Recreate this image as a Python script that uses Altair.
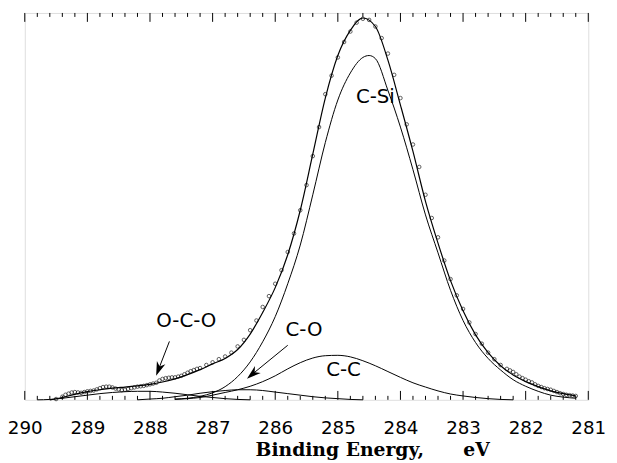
import altair as alt
import pandas as pd

# ---------------- data ----------------
# Envelope (sum of fitted components)
env_E = [289.6, 289.4, 289.2, 289.0, 288.8, 288.6, 288.4, 288.2, 288.0, 287.8,
         287.6, 287.4, 287.2, 287.0, 286.8, 286.6, 286.4, 286.2, 286.0, 285.8,
         285.6, 285.4, 285.2, 285.0, 284.8, 284.6, 284.4, 284.2, 284.0, 283.8,
         283.6, 283.4, 283.2, 283.0, 282.8, 282.6, 282.4, 282.2, 282.0, 281.8,
         281.6, 281.4, 281.2]
env_h = [0.000, 0.006, 0.014, 0.021, 0.026, 0.030, 0.033, 0.036, 0.040, 0.046,
         0.054, 0.065, 0.078, 0.093, 0.107, 0.130, 0.170, 0.226, 0.290, 0.375,
         0.490, 0.635, 0.780, 0.890, 0.955, 0.987, 0.965, 0.878, 0.762, 0.642,
         0.513, 0.405, 0.308, 0.230, 0.168, 0.122, 0.088, 0.064, 0.047, 0.034,
         0.023, 0.016, 0.010]

# C-Si component
csi_E = [287.6, 287.4, 287.2, 287.0, 286.8, 286.6, 286.4, 286.2, 286.0, 285.8,
         285.6, 285.4, 285.2, 285.0, 284.8, 284.6, 284.5, 284.4, 284.2, 284.0,
         283.8, 283.6, 283.4, 283.2, 283.0, 282.8, 282.6, 282.4, 282.2, 282.0,
         281.8, 281.6, 281.4, 281.2]
csi_h = [0.002, 0.004, 0.009, 0.018, 0.034, 0.060, 0.098, 0.150, 0.215, 0.300,
         0.400, 0.530, 0.665, 0.775, 0.845, 0.885, 0.890, 0.882, 0.800, 0.705,
         0.595, 0.478, 0.380, 0.283, 0.205, 0.148, 0.107, 0.077, 0.052, 0.035,
         0.022, 0.012, 0.007, 0.004]

# C-C component
cc_E = [287.6, 287.4, 287.2, 287.0, 286.8, 286.6, 286.4, 286.2, 286.0, 285.8,
        285.6, 285.4, 285.2, 285.0, 284.8, 284.6, 284.4, 284.2, 284.0, 283.8,
        283.6, 283.4, 283.2, 283.0, 282.8, 282.6, 282.4, 282.2]
cc_h = [0.001, 0.003, 0.006, 0.012, 0.019, 0.026, 0.035, 0.047, 0.062, 0.080,
        0.096, 0.108, 0.114, 0.115, 0.111, 0.101, 0.088, 0.073, 0.058, 0.044,
        0.033, 0.023, 0.015, 0.010, 0.006, 0.003, 0.001, 0.000]

# C-O component
co_E = [288.2, 288.0, 287.8, 287.6, 287.4, 287.2, 287.0, 286.8, 286.6, 286.4,
        286.2, 286.0, 285.8, 285.6, 285.4, 285.2, 285.0, 284.8, 284.6]
co_h = [0.000, 0.002, 0.004, 0.008, 0.012, 0.017, 0.021, 0.024, 0.026, 0.026,
        0.024, 0.020, 0.016, 0.012, 0.008, 0.005, 0.003, 0.001, 0.000]

# O-C-O component
oco_E = [289.8, 289.6, 289.4, 289.2, 289.0, 288.8, 288.6, 288.4, 288.2, 288.0,
         287.8, 287.6, 287.4, 287.2, 287.0, 286.8, 286.6, 286.4]
oco_h = [0.000, 0.001, 0.004, 0.008, 0.012, 0.016, 0.019, 0.021, 0.022, 0.022,
         0.020, 0.017, 0.013, 0.009, 0.006, 0.003, 0.001, 0.000]

# Measured data points (open circles)
pts_E = [289.5, 289.4, 289.3, 289.2, 289.1, 289.0, 288.9, 288.8, 288.7, 288.6,
         288.5, 288.4, 288.3, 288.2, 288.1, 288.0, 287.9, 287.8, 287.7, 287.6,
         287.5, 287.4, 287.3, 287.2, 287.1, 287.0, 286.9, 286.8, 286.7, 286.6,
         286.5, 286.4, 286.3, 286.2, 286.1, 286.0, 285.9, 285.8, 285.7, 285.6,
         285.5, 285.4, 285.3, 285.2, 285.1, 285.0, 284.9, 284.8, 284.7, 284.6,
         284.5, 284.4, 284.3, 284.2, 284.1, 284.0, 283.9, 283.8, 283.7, 283.6,
         283.5, 283.4, 283.3, 283.2, 283.1, 283.0, 282.9, 282.8, 282.7, 282.6,
         282.5, 282.4, 282.3, 282.2, 282.1, 282.0, 281.9, 281.8, 281.7, 281.6,
         281.5, 281.4, 281.3, 281.2,
         289.35, 289.25, 289.15, 289.05, 288.95, 288.85, 288.75, 288.65, 288.55,
         288.45, 288.35, 288.25, 288.15, 288.05, 287.95, 287.85, 287.75, 287.65,
         287.55, 287.45, 287.35, 287.25, 282.25, 282.15, 282.05, 281.95, 281.85,
         281.75, 281.65, 281.55, 281.45, 281.35, 281.25]
pts_h = [0.002, 0.008, 0.016, 0.020, 0.018, 0.022, 0.024, 0.030, 0.034, 0.032,
         0.027, 0.026, 0.030, 0.034, 0.036, 0.040, 0.044, 0.054, 0.057, 0.058,
         0.062, 0.070, 0.077, 0.082, 0.090, 0.097, 0.105, 0.112, 0.122, 0.138,
         0.155, 0.180, 0.205, 0.240, 0.268, 0.300, 0.335, 0.382, 0.430, 0.490,
         0.555, 0.630, 0.705, 0.790, 0.838, 0.885, 0.925, 0.952, 0.975, 0.985,
         0.982, 0.965, 0.935, 0.895, 0.840, 0.780, 0.712, 0.660, 0.602, 0.530,
         0.470, 0.420, 0.360, 0.312, 0.270, 0.235, 0.200, 0.170, 0.145, 0.122,
         0.105, 0.090, 0.080, 0.072, 0.060, 0.052, 0.045, 0.036, 0.030, 0.026,
         0.020, 0.015, 0.012, 0.010,
         0.013, 0.019, 0.019, 0.020, 0.023, 0.027, 0.033, 0.034, 0.029,
         0.025, 0.028, 0.032, 0.035, 0.038, 0.042, 0.050, 0.056, 0.058,
         0.060, 0.066, 0.074, 0.080, 0.076, 0.066, 0.056, 0.048, 0.040,
         0.033, 0.028, 0.023, 0.017, 0.013, 0.011]

# Tick positions
major_ticks = [290, 289, 288, 287, 286, 285, 284, 283, 282, 281]
minor_ticks = [289.8, 289.6, 289.4, 289.2, 288.8, 288.6, 288.4, 288.2,
               287.8, 287.6, 287.4, 287.2, 286.8, 286.6, 286.4, 286.2,
               285.8, 285.6, 285.4, 285.2, 284.8, 284.6, 284.4, 284.2,
               283.8, 283.6, 283.4, 283.2, 282.8, 282.6, 282.4, 282.2,
               281.8, 281.6, 281.4, 281.2]

# Peak labels
label_text = ["C-Si", "O-C-O", "C-O", "C-C"]
label_E = [284.40, 287.42, 285.54, 284.91]
label_h = [0.783, 0.204, 0.179, 0.077]

# Arrows (tail -> head)
arrow_E = [287.69, 285.80]
arrow_h = [0.151, 0.141]
arrow_E2 = [287.86, 286.36]
arrow_h2 = [0.080, 0.067]
arrow_angle = [200.5, 230.0]

# ---------------- build tables ----------------
comp_df = pd.concat([
    pd.DataFrame({"E": csi_E, "h": csi_h, "series": "C-Si"}),
    pd.DataFrame({"E": cc_E, "h": cc_h, "series": "C-C"}),
    pd.DataFrame({"E": co_E, "h": co_h, "series": "C-O"}),
    pd.DataFrame({"E": oco_E, "h": oco_h, "series": "O-C-O"}),
], ignore_index=True)
env_df = pd.DataFrame({"E": env_E, "h": env_h})
pts_df = pd.DataFrame({"E": pts_E, "h": pts_h})
lab_df = pd.DataFrame({"E": label_E, "h": label_h, "t": label_text})
arr_df = pd.DataFrame({"E": arrow_E, "h": arrow_h, "E2": arrow_E2,
                       "h2": arrow_h2, "ang": arrow_angle})
head_df = pd.DataFrame({"E": arrow_E2, "h": arrow_h2, "ang": arrow_angle})
major_df = pd.DataFrame({"E": major_ticks})
minor_df = pd.DataFrame({"E": minor_ticks})

W, H = 571, 392

xaxis = alt.Axis(values=major_ticks, format="d", ticks=False, tickSize=0,
                 domain=False, grid=False, labelPadding=19, labelFontSize=18.5,
                 labelFont="DejaVu Sans", labelColor="black", labelFlush=False,
                 labelOverlap=False,
                 title="Binding Energy,\u00a0\u00a0\u00a0\u00a0\u00a0 eV",
                 titleFont="DejaVu Serif",
                 titleFontSize=19, titleFontWeight="bold", titleColor="black",
                 titleX=352, titleY=56.5, titleBaseline="alphabetic",
                 titleAlign="center")
X = alt.X("E:Q", scale=alt.Scale(domain=[281, 290], reverse=True, nice=False,
                                   zero=False), axis=xaxis)
Y = alt.Y("h:Q", scale=alt.Scale(domain=[0, 1], nice=False, zero=False), axis=None)

comp = alt.Chart(comp_df).mark_line(interpolate="monotone", color="black",
                                    strokeWidth=1).encode(x=X, y=Y, detail="series:N")
env = alt.Chart(env_df).mark_line(interpolate="monotone", color="black",
                                  strokeWidth=1.2).encode(x=X, y=Y)
pts = alt.Chart(pts_df).mark_point(shape="circle", filled=False, size=13,
                                   strokeWidth=0.9, color="black").encode(x=X, y=Y)
labels = alt.Chart(lab_df).mark_text(font="DejaVu Sans", fontSize=20, color="black",
                                     align="center", baseline="middle").encode(
    x=X, y=Y, text="t:N")
arrows = alt.Chart(arr_df).mark_rule(color="black", strokeWidth=1).encode(
    x=X, y=Y, x2="E2:Q", y2="h2:Q")
heads = alt.Chart(head_df).mark_point(
    shape="M0,-1L0.6,0.9L0,0.35L-0.6,0.9Z", filled=True, size=230,
    color="black", opacity=1).encode(x=X, y=Y, angle=alt.Angle("ang:Q", scale=None))

maj_bot = alt.Chart(major_df).mark_rule(color="black", strokeWidth=1).encode(
    x=X, y=alt.value(H), y2=alt.value(H - 9))
min_bot = alt.Chart(minor_df).mark_rule(color="black", strokeWidth=1).encode(
    x=X, y=alt.value(H), y2=alt.value(H - 4))
maj_top = alt.Chart(major_df).mark_rule(color="black", strokeWidth=1).encode(
    x=X, y=alt.value(0), y2=alt.value(9))
min_top = alt.Chart(minor_df).mark_rule(color="black", strokeWidth=1).encode(
    x=X, y=alt.value(0), y2=alt.value(4))

chart = alt.layer(
    maj_bot, min_bot, maj_top, min_top, comp, env, pts, labels, arrows, heads
).properties(
    width=W, height=H,
    autosize=alt.AutoSizeParams(type="none"),
    padding={"left": 17, "top": 2, "right": 21, "bottom": 61},
).configure_view(stroke="black", strokeWidth=1.5).configure(background="white")

chart.save("out.html", embed_options={"renderer": "svg", "actions": False})
